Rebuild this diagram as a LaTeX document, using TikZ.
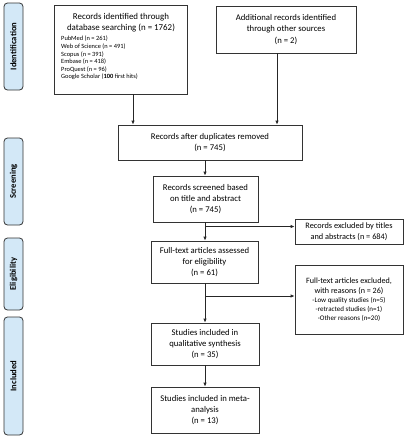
\documentclass[tikz,border=0pt]{standalone}
\usepackage{fontspec}
\setmainfont{Carlito}
\usetikzlibrary{arrows.meta}
\definecolor{sidefill}{HTML}{D3E8F7}
\definecolor{edge}{HTML}{333333}
\tikzset{
  box/.style={draw=edge, line width=0.8pt, fill=white, inner sep=1pt, align=center,
    font=\fontsize{8.7}{11.2}\selectfont},
  side/.style={draw=edge, line width=0.8pt, fill=sidefill, rounded corners=3.5pt,
    minimum width=19pt, inner sep=0pt},
  sidetext/.style={rotate=90, font=\fontsize{8.6}{9}\selectfont\bfseries},
  arr/.style={draw=black!85, line width=0.8pt, -{Latex[length=4pt,width=3.5pt]}},
}
\begin{document}
\begin{tikzpicture}[x=1pt,y=-1pt]
\useasboundingbox (0,0) rectangle (407,440);
% side labels
\node[side, minimum height=87pt] (s1) at (13.5,46.5) {};
\node[sidetext] (t1) at (s1.center) {Identification};
\node[side, minimum height=87pt] (s2) at (13.5,181.5) {};
\node[sidetext] (t2) at (s2.center) {Screening};
\node[side, minimum height=72pt] (s3) at (13.5,274) {};
\node[sidetext] (t3) at (s3.center) {Eligibility};
\node[side, minimum height=118pt] (s4) at (13.5,376) {};
\node[sidetext] (t4) at (s4.center) {Included};
% box 1
\node[box, minimum width=133pt, minimum height=89pt] (b1) at (120.5,49.5) {};
\node[align=center, inner sep=0pt, font=\fontsize{8.9}{11.2}\selectfont] (b1t) at (121,23) {Records identified through\\database searching (n = 1762)};
\node[anchor=north west, align=left, inner sep=0pt, font=\fontsize{6.4}{7.6}\selectfont] (b1l) at (61,36)
  {PubMed (n = 261)\\Web of Science (n = 491)\\Scopus (n = 391)\\Embase (n = 418)\\ProQuest (n = 96)\\Google Scholar (\textbf{100} first hits)};
% box 2
\node[box, minimum width=140pt, minimum height=47pt] (b2) at (286,29.5) {Additional records identified\\through other sources\\(n = 2)};
% box 3
\node[box, minimum width=184pt, minimum height=35pt] (b3) at (210,142.5) {Records after duplicates removed\\(n = 745)};
% box 4
\node[box, minimum width=105pt, minimum height=46pt] (b4) at (205.5,199) {Records screened based\\on title and abstract\\(n = 745)};
% box 5
\node[box, minimum width=108pt, minimum height=25pt, font=\fontsize{8.3}{10.5}\selectfont] (b5) at (349,231.5) {Records excluded by titles\\and abstracts (n = 684)};
% box 6
\node[box, minimum width=107pt, minimum height=42pt] (b6) at (204.5,262) {Full-text articles assessed\\for eligibility\\(n = 61)};
% box 7
\node[box, minimum width=108pt, minimum height=69pt, font=\fontsize{8.1}{10}\selectfont] (b7) at (349,299.5)
  {Full-text articles excluded,\\with reasons (n = 26)\\[-1pt]{\fontsize{7}{9.2}\selectfont -Low quality studies (n=5)}\\[-0.8pt]{\fontsize{7}{9.2}\selectfont -retracted studies (n=1)}\\[-0.8pt]{\fontsize{7}{9.2}\selectfont -Other reasons (n=20)}};
% box 8
\node[box, minimum width=108pt, minimum height=42pt] (b8) at (205,344) {Studies included in\\qualitative synthesis\\(n = 35)};
% box 9
\node[box, minimum width=108pt, minimum height=46pt] (b9) at (205,410) {Studies included in meta-\\analysis\\(n = 13)};
% connector helpers
\coordinate (x1) at (133,0);
\coordinate (x2) at (277,0);
\coordinate (xm) at (205,0);
\coordinate (y1) at (0,226.5);
\coordinate (y2) at (0,296);
% connectors
\draw[arr] (b1.south -| x1) -- (b3.north -| x1);
\draw[arr] (b2.south -| x2) -- (b3.north -| x2);
\draw[arr] (b3.south -| xm) -- (b4.north -| xm);
\draw[arr] (b4.south -| xm) -- (b6.north -| xm);
\draw[arr] (y1 -| xm) -- (y1 -| b5.west);
\draw[arr] (b6.south -| xm) -- (b8.north -| xm);
\draw[arr] (y2 -| xm) -- (y2 -| b7.west);
\draw[arr] (b8.south -| xm) -- (b9.north -| xm);
\end{tikzpicture}
\end{document}
